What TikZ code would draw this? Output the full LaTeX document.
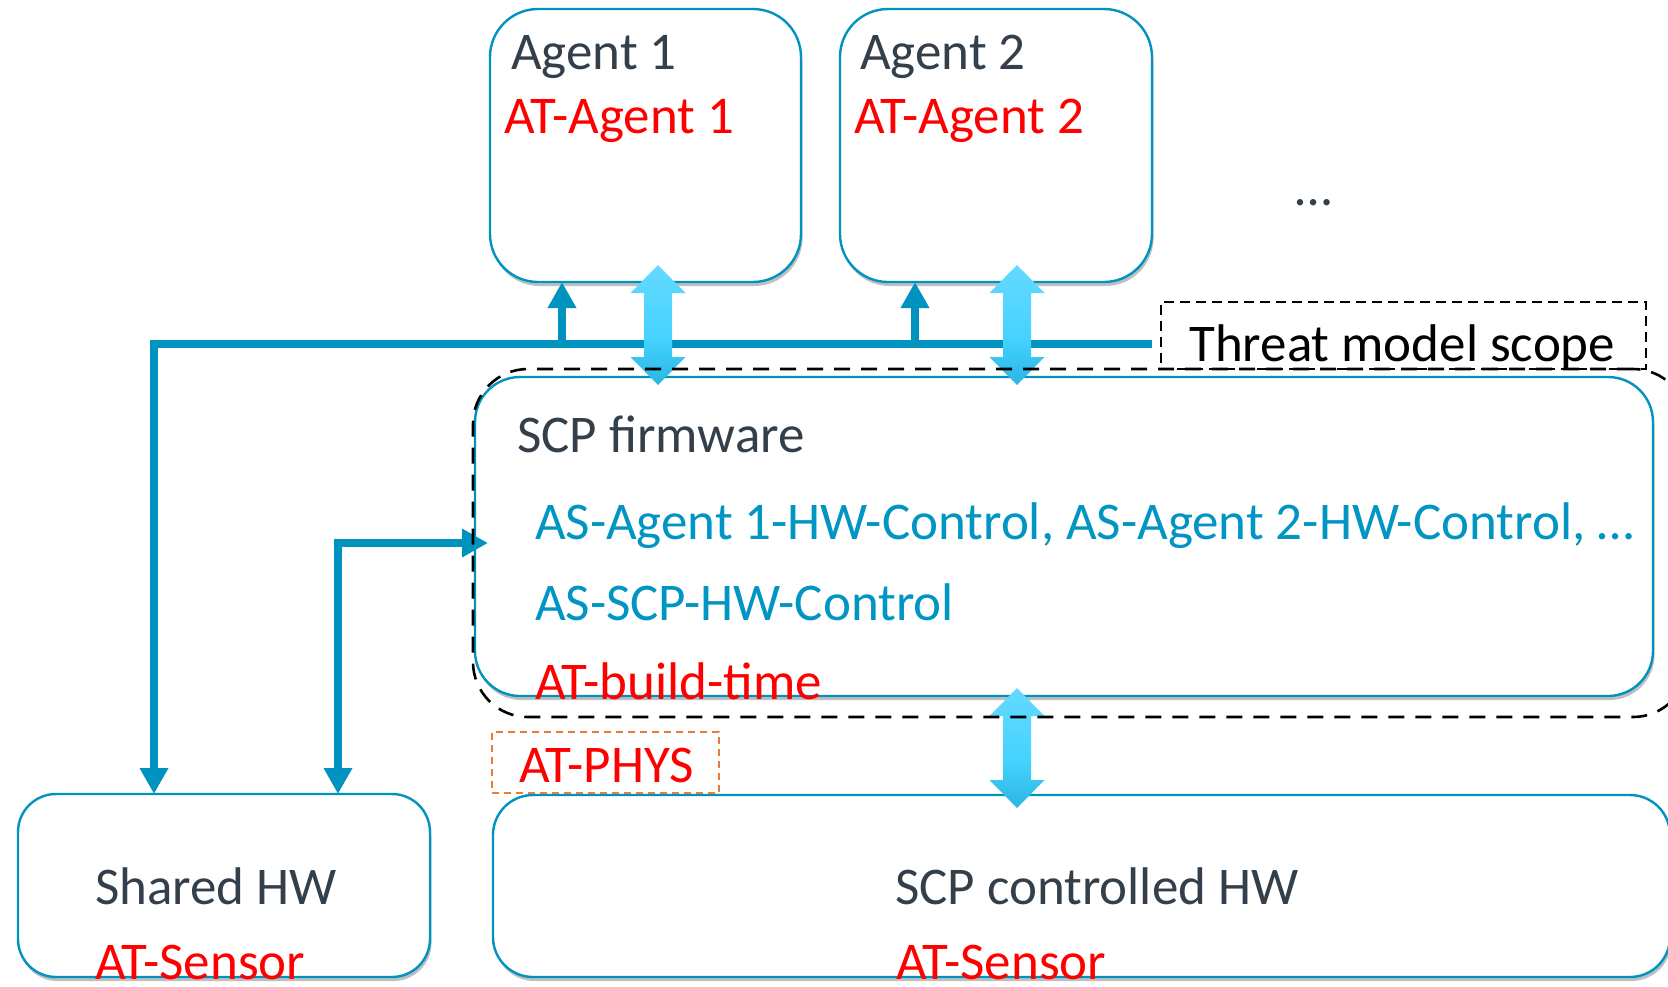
\documentclass[tikz,border=0pt]{standalone}
\usepackage{fontspec}
\setmainfont{Carlito}
\usetikzlibrary{arrows.meta,shadows}
\definecolor{lineblue}{HTML}{0093C0}
\definecolor{darktext}{HTML}{333F4A}
\definecolor{redtext}{HTML}{FF0000}
\definecolor{bluetext}{HTML}{0095C3}
\definecolor{physorange}{HTML}{ED7D31}
\definecolor{atop}{HTML}{80DEFF}
\definecolor{amid}{HTML}{45D3FF}
\definecolor{abot}{HTML}{0B8EBD}
\pgfdeclareverticalshading{dblarrowshade}{100bp}{color(0bp)=(abot); color(45bp)=(amid); color(100bp)=(atop)}
\newcommand\dblarrow[3]{%
  \shade[shading=dblarrowshade] (#1,#2) -- (#1+27.5,#2+28) -- (#1+14,#2+28) -- (#1+14,#3-28) -- (#1+27.5,#3-28) -- (#1,#3) -- (#1-27.5,#3-28) -- (#1-14,#3-28) -- (#1-14,#2+28) -- (#1-27.5,#2+28) -- cycle;}
\begin{document}
\begin{tikzpicture}[x=1pt,y=-1pt,
  box/.style={draw=lineblue, line width=2.4pt, fill=white, rounded corners=#1,
    inner sep=0pt, outer sep=0pt,
    drop shadow={shadow xshift=1.5pt, shadow yshift=-4pt, opacity=0.25, fill=black}},
  box/.default=45pt,
  bus/.style={draw=lineblue, line width=8.5pt},
  tip/.style={-{Triangle[length=26pt,width=27pt]}},
  txt/.style={anchor=base west, inner sep=0pt, font=\fontsize{53}{60}\selectfont},
  scopebox/.style={draw=black, line width=2.6pt, dash pattern=on 16pt off 11pt, rounded corners=55pt,
    inner sep=0pt, outer sep=0pt},
  labelbox/.style={draw=black, line width=2pt, dash pattern=on 10pt off 6pt, inner sep=0pt, outer sep=0pt},
  physbox/.style={draw=physorange, line width=2pt, dash pattern=on 7pt off 5pt, inner sep=0pt, outer sep=0pt}
]
\useasboundingbox (0,0) rectangle (1668,986);
\fill[white] (0,0) rectangle (1668,986);

% boxes
\node[box=48pt, minimum width=311pt, minimum height=273pt] (a1) at (645.5,145.5) {};
\node[box=48pt, minimum width=312pt, minimum height=273pt] (a2) at (996,145.5) {};
\node[box=45pt, minimum width=1178pt, minimum height=319pt] (scp) at (1064,536.5) {};
\node[box=38pt, minimum width=412pt, minimum height=183pt] (shw) at (224,885.5) {};
\node[box=40pt, minimum width=1177pt, minimum height=182pt] (chw) at (1081.5,886) {};

% bus connectors
\coordinate (busR) at (1152,344);
\coordinate (bl) at (154,344);
\coordinate (j1) at (562,344);
\coordinate (j2) at (915,344);
\coordinate (e1) at (338,543);
\coordinate (e2) at (488,543);
\draw[bus, tip] (busR) -- (bl) -- (bl |- shw.north);
\draw[bus, tip] (j1) -- (j1 |- a1.south);
\draw[bus, tip] (j2) -- (j2 |- a2.south);
\draw[bus, {Triangle[length=26pt,width=27pt]}-{Triangle[length=26pt,width=27pt]}] (e1 |- shw.north) -- (e1) -- (e2);

% double arrows
\dblarrow{658}{265}{385}
\dblarrow{1017}{265}{385}
\dblarrow{1017}{688}{808}

% scope boundaries
\node[scopebox, minimum width=1215pt, minimum height=348pt] (tm) at (1080.5,543) {};
\node[labelbox, minimum width=485pt, minimum height=67pt] (tml) at (1403.5,335.5) {};
\node[physbox, minimum width=227pt, minimum height=61pt] (phys) at (605.5,762.5) {};

% texts
\node[txt, text=darktext] (t1) at (511,69) {Agent 1};
\node[txt, text=redtext] (t2) at (504,133) {AT-Agent 1};
\node[txt, text=darktext] (t3) at (860,69) {Agent 2};
\node[txt, text=redtext] (t4) at (854,133) {AT-Agent 2};
\node[txt, text=darktext] (t5) at (1295,205) {…};
\node[txt, text=black] (t6) at (1189,361) {Threat model scope};
\node[txt, text=darktext] (t7) at (517,452) {SCP firmware};
\node[txt, text=bluetext] (t8) at (535,539) {AS-Agent 1-HW-Control, AS-Agent 2-HW-Control, …};
\node[txt, text=bluetext] (t9) at (535,620) {AS-SCP-HW-Control};
\node[txt, text=redtext] (t10) at (535,699) {AT-build-time};
\node[txt, text=redtext] (t11) at (519,782) {AT-PHYS};
\node[txt, text=darktext] (t12) at (95,904) {Shared HW};
\node[txt, text=redtext] (t13) at (95,979) {AT-Sensor};
\node[txt, text=darktext] (t14) at (895,904) {SCP controlled HW};
\node[txt, text=redtext] (t15) at (896,979) {AT-Sensor};
\end{tikzpicture}
\end{document}
